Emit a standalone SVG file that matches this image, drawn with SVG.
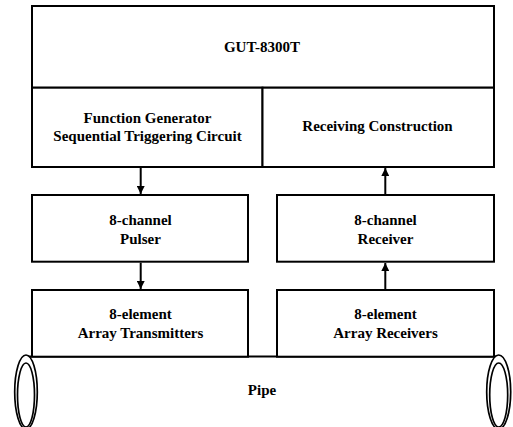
<svg xmlns="http://www.w3.org/2000/svg" width="513" height="427" viewBox="0 0 513 427">
<defs>
<marker id="ah" viewBox="0 0 10 10" refX="10" refY="5" markerWidth="4" markerHeight="4" orient="auto" markerUnits="strokeWidth">
<path d="M0,0 L10,5 L0,10 Z" fill="#000"/>
</marker>
</defs>
<style>
.box{fill:#fff;stroke:#000;stroke-width:2}
.t{font-family:"Liberation Serif","Times New Roman",serif;font-weight:bold;font-size:15px;text-anchor:middle;fill:#000}
.c{stroke:#000;stroke-width:2;fill:none}
.pipe{fill:#fff;stroke:#000;stroke-width:1.7}
</style>
<rect width="513" height="427" fill="#fff"/>
<g id="pipe">
<line class="c" x1="26" y1="356.5" x2="499" y2="356.5"/>
<ellipse class="pipe" cx="26" cy="392" rx="11.3" ry="37"/>
<ellipse class="pipe" cx="26" cy="395" rx="8.5" ry="32"/>
<ellipse class="pipe" cx="498.7" cy="392" rx="12" ry="37"/>
<ellipse class="pipe" cx="498.7" cy="395" rx="9" ry="32"/>
<text class="t" x="262" y="395">Pipe</text>
</g>
<g id="gut">
<rect class="box" x="32" y="6" width="462" height="81.7"/>
<text class="t" x="262" y="51.5">GUT-8300T</text>
</g>
<g id="funcgen">
<rect class="box" x="32" y="87.7" width="230.5" height="79.3"/>
<text class="t" x="147.5" y="123">Function Generator</text>
<text class="t" x="147.5" y="141">Sequential Triggering Circuit</text>
</g>
<g id="recvcon">
<rect class="box" x="262.5" y="87.7" width="231.5" height="79.3"/>
<text class="t" x="377.5" y="131">Receiving Construction</text>
</g>
<g id="pulser">
<rect class="box" x="32" y="195" width="216" height="66.7"/>
<text class="t" x="140.5" y="225">8-channel</text>
<text class="t" x="140.5" y="243.5">Pulser</text>
</g>
<g id="transmitters">
<rect class="box" x="32" y="290" width="216" height="66.7"/>
<text class="t" x="140.5" y="319">8-element</text>
<text class="t" x="140.5" y="337.5">Array Transmitters</text>
</g>
<g id="receiver">
<rect class="box" x="277" y="195" width="217" height="66.7"/>
<text class="t" x="385.5" y="225">8-channel</text>
<text class="t" x="385.5" y="243.5">Receiver</text>
</g>
<g id="receivers">
<rect class="box" x="277" y="290" width="217" height="66.7"/>
<text class="t" x="385.5" y="319">8-element</text>
<text class="t" x="385.5" y="337.5">Array Receivers</text>
</g>
<g id="connectors">
<line class="c" x1="140.7" y1="168" x2="140.7" y2="194" marker-end="url(#ah)"/>
<line class="c" x1="140.7" y1="262.7" x2="140.7" y2="289" marker-end="url(#ah)"/>
<line class="c" x1="385.3" y1="289" x2="385.3" y2="263" marker-end="url(#ah)"/>
<line class="c" x1="385.3" y1="194" x2="385.3" y2="168" marker-end="url(#ah)"/>
</g>
</svg>
